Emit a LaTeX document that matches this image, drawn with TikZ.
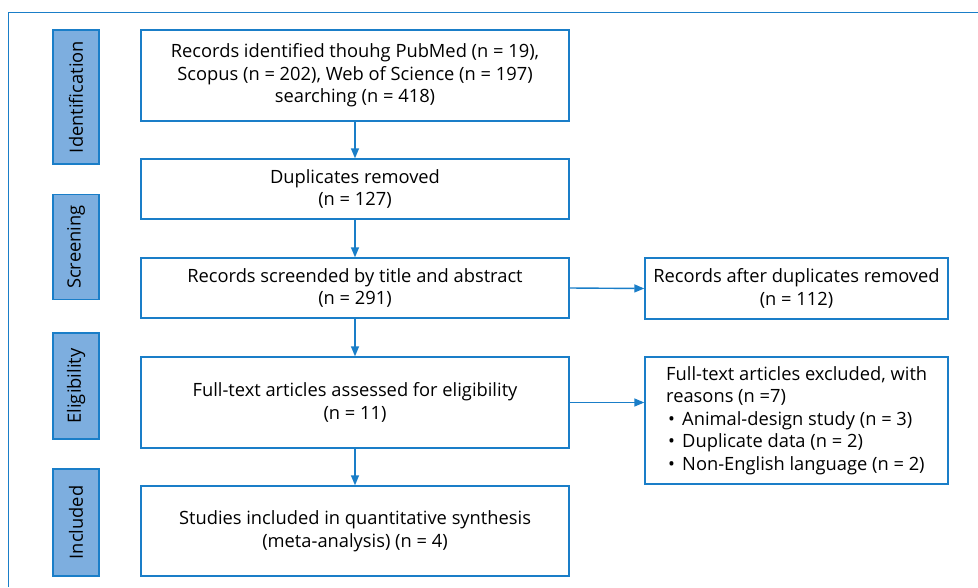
\documentclass[tikz,border=0pt]{standalone}
\usepackage{fontspec}
\setmainfont{Open Sans}
\usetikzlibrary{arrows.meta}
\definecolor{lineblue}{HTML}{1A7EC8}
\definecolor{fillblue}{HTML}{7DAEDF}
\newcommand{\flowfont}{\fontsize{18.3}{22.6}\selectfont}
\tikzset{
  flowbox/.style={draw=lineblue, line width=1.4pt, fill=white, align=center, inner sep=0pt,
    font=\flowfont},
  stagebox/.style={draw=lineblue, line width=1.4pt, fill=fillblue, inner sep=0pt},
  stagetext/.style={rotate=90, inner sep=0pt, font=\flowfont},
  flowarrow/.style={draw=lineblue, line width=1.4pt, -{Triangle[length=10pt,width=8pt]}},
}
\begin{document}
\begin{tikzpicture}[x=1pt,y=-1pt]
\useasboundingbox (0,0) rectangle (978,587);
% outer frame
\draw[lineblue, line width=1.4pt] (8.3,587) -- (8.3,12.7) -- (978,12.7);
% stage labels
\node[stagebox, minimum width=46pt, minimum height=134pt] (sid) at (76,97) {};
\node[stagetext] (tid) at (sid.center) {Identification};
\node[stagebox, minimum width=46pt, minimum height=105pt] (ssc) at (76,247) {};
\node[stagetext] (tsc) at (ssc.center) {Screening};
\node[stagebox, minimum width=46pt, minimum height=106pt] (sel) at (76,386) {};
\node[stagetext] (tel) at (sel.center) {Eligibility};
\node[stagebox, minimum width=46pt, minimum height=107pt] (sin) at (76,522.5) {};
\node[stagetext] (tin) at (sin.center) {Included};
% main boxes
\node[flowbox, minimum width=428pt, minimum height=91pt] (b1) at (355,75.5)
  {Records identified thouhg PubMed (n = 19),\\ Scopus (n = 202), Web of Science (n = 197)\\ searching (n = 418)};
\node[flowbox, minimum width=428pt, minimum height=60pt] (b2) at (355,189)
  {Duplicates removed\\ (n = 127)};
\node[flowbox, minimum width=428pt, minimum height=60pt] (b3) at (355,288)
  {Records screended by title and abstract\\ (n = 291)};
\node[flowbox, minimum width=428pt, minimum height=91pt] (b4) at (355,402.5)
  {Full-text articles assessed for eligibility\\ (n = 11)};
\node[flowbox, minimum width=428pt, minimum height=90pt] (b5) at (355,531)
  {Studies included in quantitative synthesis\\ (meta-analysis) (n = 4)};
% side boxes
\node[flowbox, minimum width=303pt, minimum height=61pt] (ra) at (796.5,288.5)
  {Records after duplicates removed\\ (n = 112)};
\node[flowbox, minimum width=303pt, minimum height=127pt] (rb) at (796.5,420.5) {};
\node[anchor=west, align=left, inner sep=0pt, font=\flowfont] (rbt) at (666,420.5)
  {Full-text articles excluded, with\\ reasons (n =7)\\
   \makebox[16pt][l]{\hspace{2pt}\textbullet}Animal-design study (n = 3)\\
   \makebox[16pt][l]{\hspace{2pt}\textbullet}Duplicate data (n = 2)\\
   \makebox[16pt][l]{\hspace{2pt}\textbullet}Non-English language (n = 2)};
% arrows
\draw[flowarrow] (b1) -- (b2);
\draw[flowarrow] (b2) -- (b3);
\draw[flowarrow] (b3) -- (b4);
\draw[flowarrow] (b4) -- (b5);
\draw[flowarrow] (b3.east) -- (ra.west);
\draw[flowarrow] (b4.east) -- (b4.east -| rb.west);
\end{tikzpicture}
\end{document}
